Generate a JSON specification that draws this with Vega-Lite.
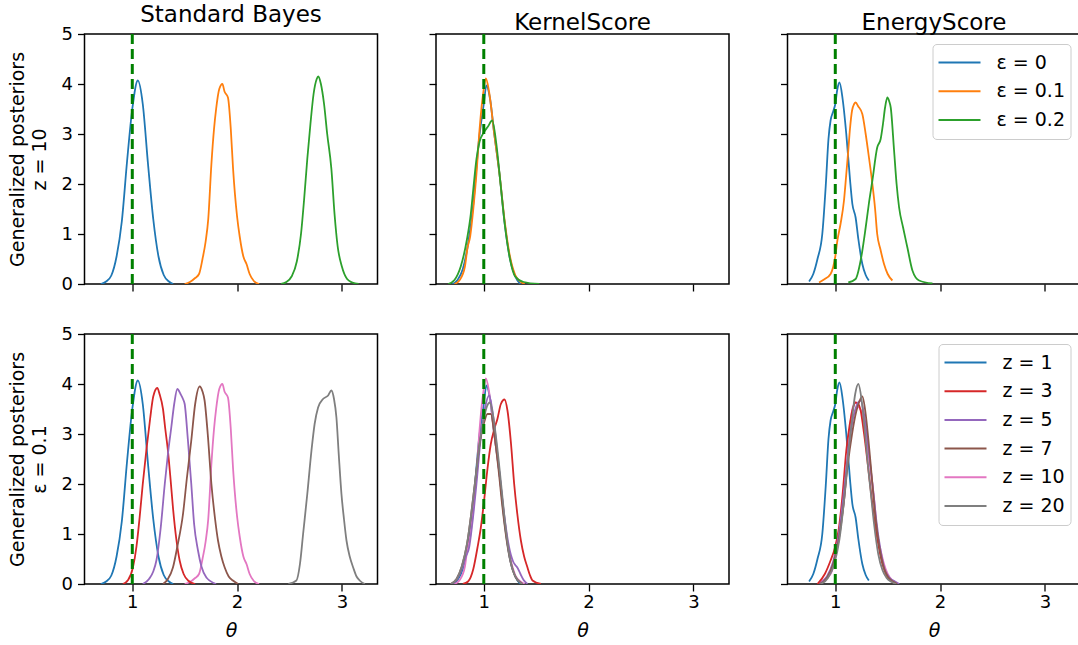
{
 "$schema": "https://vega.github.io/schema/vega-lite/v6.json",
 "padding": {"left": 6.5, "top": 3, "right": 0, "bottom": 0},
 "background": "white",
 "config": {
  "font": "DejaVu Sans",
  "view": {"stroke": "black", "strokeWidth": 1.5},
  "axis": {"domain": false, "grid": false, "tickColor": "black", "tickWidth": 1.3, "tickSize": 7, "labelFontSize": 18, "labelColor": "black", "labelPadding": 5, "titleFontSize": 19, "titleFontWeight": "normal", "titleColor": "black", "labelFont": "DejaVu Sans", "titleFont": "DejaVu Sans", "format": "d"},
  "axisX": {"titleFontStyle": "italic", "titlePadding": 10, "labelPadding": 2},
  "axisY": {"titlePadding": 12, "titleLineHeight": 22},
  "title": {"fontSize": 23, "fontWeight": "normal", "color": "black", "offset": -2, "frame": "group", "font": "DejaVu Sans"},
  "legend": {"strokeColor": "#cccccc", "cornerRadius": 4, "fillColor": "white", "padding": 5, "symbolType": "stroke", "symbolStrokeWidth": 2, "symbolSize": 1764, "labelFontSize": 19, "labelFont": "DejaVu Sans", "labelColor": "black", "labelOffset": 15, "clipHeight": 27, "rowPadding": 1.7, "orient": "top-right", "offset": 10}
 },
 "data": {"values": [
  {"p":"SB","c":"e0","x":0.70,"y":0},{"p":"SB","c":"e0","x":0.75,"y":0.05},{"p":"SB","c":"e0","x":0.80,"y":0.17},{"p":"SB","c":"e0","x":0.85,"y":0.55},{"p":"SB","c":"e0","x":0.90,"y":1.25},{"p":"SB","c":"e0","x":0.95,"y":2.45},{"p":"SB","c":"e0","x":1.00,"y":3.5},{"p":"SB","c":"e0","x":1.053,"y":4.07},{"p":"SB","c":"e0","x":1.10,"y":3.6},{"p":"SB","c":"e0","x":1.15,"y":2.4},{"p":"SB","c":"e0","x":1.20,"y":1.3},{"p":"SB","c":"e0","x":1.25,"y":0.55},{"p":"SB","c":"e0","x":1.30,"y":0.18},{"p":"SB","c":"e0","x":1.35,"y":0.05},{"p":"SB","c":"e0","x":1.39,"y":0},
  {"p":"SB","c":"e01","x":1.50,"y":0},{"p":"SB","c":"e01","x":1.55,"y":0.04},{"p":"SB","c":"e01","x":1.60,"y":0.12},{"p":"SB","c":"e01","x":1.637,"y":0.2},{"p":"SB","c":"e01","x":1.67,"y":0.5},{"p":"SB","c":"e01","x":1.70,"y":0.85},{"p":"SB","c":"e01","x":1.725,"y":1.3},{"p":"SB","c":"e01","x":1.755,"y":2.4},{"p":"SB","c":"e01","x":1.78,"y":3.1},{"p":"SB","c":"e01","x":1.80,"y":3.5},{"p":"SB","c":"e01","x":1.83,"y":3.9},{"p":"SB","c":"e01","x":1.86,"y":4.0},{"p":"SB","c":"e01","x":1.88,"y":3.85},{"p":"SB","c":"e01","x":1.913,"y":3.73},{"p":"SB","c":"e01","x":1.94,"y":3.1},{"p":"SB","c":"e01","x":1.961,"y":2.33},{"p":"SB","c":"e01","x":2.00,"y":1.35},{"p":"SB","c":"e01","x":2.025,"y":0.95},{"p":"SB","c":"e01","x":2.06,"y":0.55},{"p":"SB","c":"e01","x":2.09,"y":0.4},{"p":"SB","c":"e01","x":2.12,"y":0.2},{"p":"SB","c":"e01","x":2.16,"y":0.06},{"p":"SB","c":"e01","x":2.21,"y":0},
  {"p":"SB","c":"e02","x":2.42,"y":0},{"p":"SB","c":"e02","x":2.47,"y":0.04},{"p":"SB","c":"e02","x":2.52,"y":0.15},{"p":"SB","c":"e02","x":2.57,"y":0.45},{"p":"SB","c":"e02","x":2.61,"y":1.0},{"p":"SB","c":"e02","x":2.64,"y":1.7},{"p":"SB","c":"e02","x":2.67,"y":2.5},{"p":"SB","c":"e02","x":2.70,"y":3.2},{"p":"SB","c":"e02","x":2.73,"y":3.8},{"p":"SB","c":"e02","x":2.76,"y":4.1},{"p":"SB","c":"e02","x":2.775,"y":4.15},{"p":"SB","c":"e02","x":2.80,"y":4.0},{"p":"SB","c":"e02","x":2.83,"y":3.6},{"p":"SB","c":"e02","x":2.86,"y":3.0},{"p":"SB","c":"e02","x":2.90,"y":2.3},{"p":"SB","c":"e02","x":2.93,"y":1.4},{"p":"SB","c":"e02","x":2.96,"y":0.75},{"p":"SB","c":"e02","x":3.00,"y":0.35},{"p":"SB","c":"e02","x":3.05,"y":0.1},{"p":"SB","c":"e02","x":3.10,"y":0.03},{"p":"SB","c":"e02","x":3.16,"y":0},
  {"p":"SB","c":"z3","x":0.91,"y":0},{"p":"SB","c":"z3","x":0.96,"y":0.08},{"p":"SB","c":"z3","x":1.006,"y":0.33},{"p":"SB","c":"z3","x":1.04,"y":0.75},{"p":"SB","c":"z3","x":1.07,"y":1.33},{"p":"SB","c":"z3","x":1.10,"y":2.0},{"p":"SB","c":"z3","x":1.134,"y":2.67},{"p":"SB","c":"z3","x":1.17,"y":3.3},{"p":"SB","c":"z3","x":1.20,"y":3.75},{"p":"SB","c":"z3","x":1.239,"y":3.92},{"p":"SB","c":"z3","x":1.26,"y":3.8},{"p":"SB","c":"z3","x":1.293,"y":3.5},{"p":"SB","c":"z3","x":1.315,"y":3.1},{"p":"SB","c":"z3","x":1.34,"y":2.67},{"p":"SB","c":"z3","x":1.365,"y":2.1},{"p":"SB","c":"z3","x":1.388,"y":1.53},{"p":"SB","c":"z3","x":1.42,"y":0.9},{"p":"SB","c":"z3","x":1.452,"y":0.47},{"p":"SB","c":"z3","x":1.49,"y":0.2},{"p":"SB","c":"z3","x":1.532,"y":0.07},{"p":"SB","c":"z3","x":1.60,"y":0},
  {"p":"SB","c":"z5","x":1.10,"y":0},{"p":"SB","c":"z5","x":1.16,"y":0.1},{"p":"SB","c":"z5","x":1.20,"y":0.25},{"p":"SB","c":"z5","x":1.23,"y":0.47},{"p":"SB","c":"z5","x":1.27,"y":1.1},{"p":"SB","c":"z5","x":1.31,"y":2.0},{"p":"SB","c":"z5","x":1.34,"y":2.6},{"p":"SB","c":"z5","x":1.372,"y":3.13},{"p":"SB","c":"z5","x":1.40,"y":3.6},{"p":"SB","c":"z5","x":1.43,"y":3.9},{"p":"SB","c":"z5","x":1.46,"y":3.8},{"p":"SB","c":"z5","x":1.484,"y":3.7},{"p":"SB","c":"z5","x":1.50,"y":3.6},{"p":"SB","c":"z5","x":1.53,"y":2.9},{"p":"SB","c":"z5","x":1.563,"y":2.0},{"p":"SB","c":"z5","x":1.59,"y":1.2},{"p":"SB","c":"z5","x":1.627,"y":0.67},{"p":"SB","c":"z5","x":1.66,"y":0.35},{"p":"SB","c":"z5","x":1.707,"y":0.13},{"p":"SB","c":"z5","x":1.80,"y":0},
  {"p":"SB","c":"z7","x":1.293,"y":0},{"p":"SB","c":"z7","x":1.34,"y":0.1},{"p":"SB","c":"z7","x":1.388,"y":0.33},{"p":"SB","c":"z7","x":1.43,"y":0.75},{"p":"SB","c":"z7","x":1.484,"y":1.4},{"p":"SB","c":"z7","x":1.52,"y":2.1},{"p":"SB","c":"z7","x":1.563,"y":2.87},{"p":"SB","c":"z7","x":1.60,"y":3.6},{"p":"SB","c":"z7","x":1.643,"y":3.95},{"p":"SB","c":"z7","x":1.67,"y":3.85},{"p":"SB","c":"z7","x":1.69,"y":3.67},{"p":"SB","c":"z7","x":1.72,"y":3.0},{"p":"SB","c":"z7","x":1.755,"y":2.0},{"p":"SB","c":"z7","x":1.79,"y":1.3},{"p":"SB","c":"z7","x":1.818,"y":0.87},{"p":"SB","c":"z7","x":1.85,"y":0.55},{"p":"SB","c":"z7","x":1.882,"y":0.33},{"p":"SB","c":"z7","x":1.92,"y":0.15},{"p":"SB","c":"z7","x":1.96,"y":0.07},{"p":"SB","c":"z7","x":2.01,"y":0},
  {"p":"SB","c":"z20","x":2.49,"y":0},{"p":"SB","c":"z20","x":2.566,"y":0.07},{"p":"SB","c":"z20","x":2.60,"y":0.4},{"p":"SB","c":"z20","x":2.63,"y":1.0},{"p":"SB","c":"z20","x":2.67,"y":1.8},{"p":"SB","c":"z20","x":2.71,"y":2.67},{"p":"SB","c":"z20","x":2.74,"y":3.2},{"p":"SB","c":"z20","x":2.773,"y":3.53},{"p":"SB","c":"z20","x":2.82,"y":3.7},{"p":"SB","c":"z20","x":2.869,"y":3.77},{"p":"SB","c":"z20","x":2.90,"y":3.87},{"p":"SB","c":"z20","x":2.925,"y":3.7},{"p":"SB","c":"z20","x":2.948,"y":3.33},{"p":"SB","c":"z20","x":2.97,"y":2.6},{"p":"SB","c":"z20","x":2.996,"y":1.8},{"p":"SB","c":"z20","x":3.02,"y":1.3},{"p":"SB","c":"z20","x":3.044,"y":0.87},{"p":"SB","c":"z20","x":3.075,"y":0.55},{"p":"SB","c":"z20","x":3.108,"y":0.33},{"p":"SB","c":"z20","x":3.14,"y":0.15},{"p":"SB","c":"z20","x":3.17,"y":0.07},{"p":"SB","c":"z20","x":3.22,"y":0},
  {"p":"KS","c":"e0","x":0.70,"y":0},{"p":"KS","c":"e0","x":0.75,"y":0.08},{"p":"KS","c":"e0","x":0.80,"y":0.3},{"p":"KS","c":"e0","x":0.85,"y":0.8},{"p":"KS","c":"e0","x":0.90,"y":1.6},{"p":"KS","c":"e0","x":0.93,"y":2.33},{"p":"KS","c":"e0","x":0.95,"y":2.8},{"p":"KS","c":"e0","x":1.00,"y":3.6},{"p":"KS","c":"e0","x":1.025,"y":3.97},{"p":"KS","c":"e0","x":1.06,"y":3.7},{"p":"KS","c":"e0","x":1.10,"y":3.0},{"p":"KS","c":"e0","x":1.15,"y":2.2},{"p":"KS","c":"e0","x":1.20,"y":1.2},{"p":"KS","c":"e0","x":1.25,"y":0.5},{"p":"KS","c":"e0","x":1.30,"y":0.15},{"p":"KS","c":"e0","x":1.35,"y":0},
  {"p":"KS","c":"e01","x":0.72,"y":0},{"p":"KS","c":"e01","x":0.77,"y":0.08},{"p":"KS","c":"e01","x":0.82,"y":0.35},{"p":"KS","c":"e01","x":0.845,"y":0.73},{"p":"KS","c":"e01","x":0.87,"y":0.95},{"p":"KS","c":"e01","x":0.90,"y":1.5},{"p":"KS","c":"e01","x":0.93,"y":2.2},{"p":"KS","c":"e01","x":0.96,"y":3.1},{"p":"KS","c":"e01","x":1.00,"y":3.9},{"p":"KS","c":"e01","x":1.02,"y":4.11},{"p":"KS","c":"e01","x":1.05,"y":3.85},{"p":"KS","c":"e01","x":1.10,"y":3.0},{"p":"KS","c":"e01","x":1.15,"y":2.2},{"p":"KS","c":"e01","x":1.20,"y":1.25},{"p":"KS","c":"e01","x":1.25,"y":0.55},{"p":"KS","c":"e01","x":1.30,"y":0.18},{"p":"KS","c":"e01","x":1.35,"y":0.05},{"p":"KS","c":"e01","x":1.39,"y":0},
  {"p":"KS","c":"e02","x":0.66,"y":0},{"p":"KS","c":"e02","x":0.72,"y":0.08},{"p":"KS","c":"e02","x":0.78,"y":0.35},{"p":"KS","c":"e02","x":0.84,"y":0.9},{"p":"KS","c":"e02","x":0.876,"y":1.4},{"p":"KS","c":"e02","x":0.90,"y":1.9},{"p":"KS","c":"e02","x":0.93,"y":2.5},{"p":"KS","c":"e02","x":0.96,"y":2.85},{"p":"KS","c":"e02","x":1.00,"y":3.03},{"p":"KS","c":"e02","x":1.04,"y":3.15},{"p":"KS","c":"e02","x":1.08,"y":3.27},{"p":"KS","c":"e02","x":1.12,"y":2.8},{"p":"KS","c":"e02","x":1.16,"y":2.0},{"p":"KS","c":"e02","x":1.20,"y":1.2},{"p":"KS","c":"e02","x":1.25,"y":0.5},{"p":"KS","c":"e02","x":1.30,"y":0.15},{"p":"KS","c":"e02","x":1.38,"y":0.04},{"p":"KS","c":"e02","x":1.53,"y":0},
  {"p":"KS","c":"z3","x":0.80,"y":0},{"p":"KS","c":"z3","x":0.85,"y":0.05},{"p":"KS","c":"z3","x":0.90,"y":0.3},{"p":"KS","c":"z3","x":0.94,"y":0.73},{"p":"KS","c":"z3","x":0.97,"y":1.1},{"p":"KS","c":"z3","x":1.003,"y":1.67},{"p":"KS","c":"z3","x":1.035,"y":2.3},{"p":"KS","c":"z3","x":1.067,"y":2.8},{"p":"KS","c":"z3","x":1.10,"y":3.1},{"p":"KS","c":"z3","x":1.13,"y":3.3},{"p":"KS","c":"z3","x":1.163,"y":3.6},{"p":"KS","c":"z3","x":1.198,"y":3.69},{"p":"KS","c":"z3","x":1.226,"y":3.47},{"p":"KS","c":"z3","x":1.26,"y":2.8},{"p":"KS","c":"z3","x":1.29,"y":2.0},{"p":"KS","c":"z3","x":1.32,"y":1.4},{"p":"KS","c":"z3","x":1.354,"y":0.87},{"p":"KS","c":"z3","x":1.385,"y":0.55},{"p":"KS","c":"z3","x":1.417,"y":0.33},{"p":"KS","c":"z3","x":1.44,"y":0.18},{"p":"KS","c":"z3","x":1.465,"y":0.07},{"p":"KS","c":"z3","x":1.545,"y":0},
  {"p":"KS","c":"z5","x":0.685,"y":0},{"p":"KS","c":"z5","x":0.74,"y":0.08},{"p":"KS","c":"z5","x":0.79,"y":0.3},{"p":"KS","c":"z5","x":0.83,"y":0.55},{"p":"KS","c":"z5","x":0.86,"y":0.73},{"p":"KS","c":"z5","x":0.89,"y":1.2},{"p":"KS","c":"z5","x":0.93,"y":2.0},{"p":"KS","c":"z5","x":0.97,"y":2.9},{"p":"KS","c":"z5","x":1.01,"y":3.5},{"p":"KS","c":"z5","x":1.051,"y":3.77},{"p":"KS","c":"z5","x":1.08,"y":3.5},{"p":"KS","c":"z5","x":1.12,"y":2.8},{"p":"KS","c":"z5","x":1.16,"y":2.0},{"p":"KS","c":"z5","x":1.20,"y":1.3},{"p":"KS","c":"z5","x":1.24,"y":0.75},{"p":"KS","c":"z5","x":1.28,"y":0.45},{"p":"KS","c":"z5","x":1.30,"y":0.38},{"p":"KS","c":"z5","x":1.32,"y":0.33},{"p":"KS","c":"z5","x":1.35,"y":0.2},{"p":"KS","c":"z5","x":1.38,"y":0.08},{"p":"KS","c":"z5","x":1.417,"y":0},
  {"p":"KS","c":"z7","x":0.685,"y":0},{"p":"KS","c":"z7","x":0.74,"y":0.1},{"p":"KS","c":"z7","x":0.79,"y":0.35},{"p":"KS","c":"z7","x":0.84,"y":0.8},{"p":"KS","c":"z7","x":0.88,"y":1.4},{"p":"KS","c":"z7","x":0.92,"y":2.1},{"p":"KS","c":"z7","x":0.96,"y":2.8},{"p":"KS","c":"z7","x":1.00,"y":3.2},{"p":"KS","c":"z7","x":1.035,"y":3.4},{"p":"KS","c":"z7","x":1.067,"y":3.4},{"p":"KS","c":"z7","x":1.10,"y":3.0},{"p":"KS","c":"z7","x":1.14,"y":2.3},{"p":"KS","c":"z7","x":1.18,"y":1.5},{"p":"KS","c":"z7","x":1.22,"y":0.85},{"p":"KS","c":"z7","x":1.26,"y":0.4},{"p":"KS","c":"z7","x":1.30,"y":0.15},{"p":"KS","c":"z7","x":1.37,"y":0},
  {"p":"KS","c":"z20","x":0.685,"y":0},{"p":"KS","c":"z20","x":0.74,"y":0.1},{"p":"KS","c":"z20","x":0.79,"y":0.35},{"p":"KS","c":"z20","x":0.84,"y":0.8},{"p":"KS","c":"z20","x":0.88,"y":1.4},{"p":"KS","c":"z20","x":0.92,"y":2.1},{"p":"KS","c":"z20","x":0.96,"y":2.8},{"p":"KS","c":"z20","x":1.00,"y":3.3},{"p":"KS","c":"z20","x":1.03,"y":3.55},{"p":"KS","c":"z20","x":1.057,"y":3.63},{"p":"KS","c":"z20","x":1.09,"y":3.35},{"p":"KS","c":"z20","x":1.13,"y":2.7},{"p":"KS","c":"z20","x":1.17,"y":1.9},{"p":"KS","c":"z20","x":1.21,"y":1.1},{"p":"KS","c":"z20","x":1.25,"y":0.5},{"p":"KS","c":"z20","x":1.29,"y":0.2},{"p":"KS","c":"z20","x":1.37,"y":0},
  {"p":"ES","c":"e0","x":0.75,"y":0.05},{"p":"ES","c":"e0","x":0.79,"y":0.2},{"p":"ES","c":"e0","x":0.83,"y":0.5},{"p":"ES","c":"e0","x":0.876,"y":1.0},{"p":"ES","c":"e0","x":0.91,"y":2.0},{"p":"ES","c":"e0","x":0.935,"y":2.9},{"p":"ES","c":"e0","x":0.955,"y":3.27},{"p":"ES","c":"e0","x":0.98,"y":3.45},{"p":"ES","c":"e0","x":1.00,"y":3.6},{"p":"ES","c":"e0","x":1.02,"y":3.9},{"p":"ES","c":"e0","x":1.04,"y":4.03},{"p":"ES","c":"e0","x":1.07,"y":3.7},{"p":"ES","c":"e0","x":1.105,"y":3.0},{"p":"ES","c":"e0","x":1.14,"y":2.1},{"p":"ES","c":"e0","x":1.163,"y":1.6},{"p":"ES","c":"e0","x":1.194,"y":1.33},{"p":"ES","c":"e0","x":1.22,"y":0.9},{"p":"ES","c":"e0","x":1.258,"y":0.4},{"p":"ES","c":"e0","x":1.29,"y":0.18},{"p":"ES","c":"e0","x":1.32,"y":0.07},
  {"p":"ES","c":"e01","x":0.845,"y":0.03},{"p":"ES","c":"e01","x":0.90,"y":0.1},{"p":"ES","c":"e01","x":0.955,"y":0.2},{"p":"ES","c":"e01","x":1.00,"y":0.55},{"p":"ES","c":"e01","x":1.02,"y":0.87},{"p":"ES","c":"e01","x":1.05,"y":1.2},{"p":"ES","c":"e01","x":1.083,"y":1.67},{"p":"ES","c":"e01","x":1.105,"y":2.2},{"p":"ES","c":"e01","x":1.124,"y":2.67},{"p":"ES","c":"e01","x":1.14,"y":3.1},{"p":"ES","c":"e01","x":1.16,"y":3.47},{"p":"ES","c":"e01","x":1.18,"y":3.6},{"p":"ES","c":"e01","x":1.194,"y":3.63},{"p":"ES","c":"e01","x":1.22,"y":3.55},{"p":"ES","c":"e01","x":1.258,"y":3.4},{"p":"ES","c":"e01","x":1.29,"y":3.0},{"p":"ES","c":"e01","x":1.32,"y":2.55},{"p":"ES","c":"e01","x":1.354,"y":2.0},{"p":"ES","c":"e01","x":1.38,"y":1.5},{"p":"ES","c":"e01","x":1.40,"y":1.0},{"p":"ES","c":"e01","x":1.43,"y":0.7},{"p":"ES","c":"e01","x":1.465,"y":0.4},{"p":"ES","c":"e01","x":1.50,"y":0.2},{"p":"ES","c":"e01","x":1.545,"y":0.07},
  {"p":"ES","c":"e02","x":1.124,"y":0.03},{"p":"ES","c":"e02","x":1.194,"y":0.1},{"p":"ES","c":"e02","x":1.242,"y":0.47},{"p":"ES","c":"e02","x":1.29,"y":1.13},{"p":"ES","c":"e02","x":1.32,"y":1.6},{"p":"ES","c":"e02","x":1.354,"y":2.07},{"p":"ES","c":"e02","x":1.40,"y":2.73},{"p":"ES","c":"e02","x":1.433,"y":2.9},{"p":"ES","c":"e02","x":1.455,"y":3.2},{"p":"ES","c":"e02","x":1.475,"y":3.53},{"p":"ES","c":"e02","x":1.497,"y":3.73},{"p":"ES","c":"e02","x":1.515,"y":3.65},{"p":"ES","c":"e02","x":1.529,"y":3.53},{"p":"ES","c":"e02","x":1.561,"y":2.67},{"p":"ES","c":"e02","x":1.585,"y":2.0},{"p":"ES","c":"e02","x":1.609,"y":1.53},{"p":"ES","c":"e02","x":1.647,"y":1.13},{"p":"ES","c":"e02","x":1.688,"y":0.73},{"p":"ES","c":"e02","x":1.736,"y":0.27},{"p":"ES","c":"e02","x":1.80,"y":0.07},{"p":"ES","c":"e02","x":1.927,"y":0.01},
  {"p":"ES","c":"z3","x":0.83,"y":0},{"p":"ES","c":"z3","x":0.90,"y":0.2},{"p":"ES","c":"z3","x":0.955,"y":0.47},{"p":"ES","c":"z3","x":1.00,"y":0.75},{"p":"ES","c":"z3","x":1.035,"y":1.13},{"p":"ES","c":"z3","x":1.07,"y":1.8},{"p":"ES","c":"z3","x":1.105,"y":2.67},{"p":"ES","c":"z3","x":1.135,"y":3.15},{"p":"ES","c":"z3","x":1.163,"y":3.47},{"p":"ES","c":"z3","x":1.194,"y":3.63},{"p":"ES","c":"z3","x":1.22,"y":3.6},{"p":"ES","c":"z3","x":1.242,"y":3.47},{"p":"ES","c":"z3","x":1.275,"y":3.0},{"p":"ES","c":"z3","x":1.306,"y":2.47},{"p":"ES","c":"z3","x":1.34,"y":1.85},{"p":"ES","c":"z3","x":1.37,"y":1.33},{"p":"ES","c":"z3","x":1.41,"y":0.8},{"p":"ES","c":"z3","x":1.45,"y":0.4},{"p":"ES","c":"z3","x":1.49,"y":0.17},{"p":"ES","c":"z3","x":1.53,"y":0.07},{"p":"ES","c":"z3","x":1.58,"y":0},
  {"p":"ES","c":"z5","x":0.85,"y":0},{"p":"ES","c":"z5","x":0.92,"y":0.15},{"p":"ES","c":"z5","x":0.98,"y":0.45},{"p":"ES","c":"z5","x":1.03,"y":0.95},{"p":"ES","c":"z5","x":1.08,"y":1.8},{"p":"ES","c":"z5","x":1.12,"y":2.6},{"p":"ES","c":"z5","x":1.16,"y":3.2},{"p":"ES","c":"z5","x":1.20,"y":3.55},{"p":"ES","c":"z5","x":1.242,"y":3.67},{"p":"ES","c":"z5","x":1.27,"y":3.45},{"p":"ES","c":"z5","x":1.30,"y":3.0},{"p":"ES","c":"z5","x":1.33,"y":2.45},{"p":"ES","c":"z5","x":1.36,"y":1.9},{"p":"ES","c":"z5","x":1.39,"y":1.3},{"p":"ES","c":"z5","x":1.43,"y":0.7},{"p":"ES","c":"z5","x":1.47,"y":0.3},{"p":"ES","c":"z5","x":1.52,"y":0.12},{"p":"ES","c":"z5","x":1.57,"y":0.05},{"p":"ES","c":"z5","x":1.61,"y":0},
  {"p":"ES","c":"z7","x":0.85,"y":0},{"p":"ES","c":"z7","x":0.92,"y":0.12},{"p":"ES","c":"z7","x":0.98,"y":0.4},{"p":"ES","c":"z7","x":1.03,"y":0.85},{"p":"ES","c":"z7","x":1.08,"y":1.6},{"p":"ES","c":"z7","x":1.12,"y":2.4},{"p":"ES","c":"z7","x":1.16,"y":3.0},{"p":"ES","c":"z7","x":1.20,"y":3.45},{"p":"ES","c":"z7","x":1.23,"y":3.65},{"p":"ES","c":"z7","x":1.258,"y":3.75},{"p":"ES","c":"z7","x":1.29,"y":3.4},{"p":"ES","c":"z7","x":1.32,"y":2.8},{"p":"ES","c":"z7","x":1.35,"y":2.1},{"p":"ES","c":"z7","x":1.38,"y":1.4},{"p":"ES","c":"z7","x":1.42,"y":0.75},{"p":"ES","c":"z7","x":1.46,"y":0.35},{"p":"ES","c":"z7","x":1.50,"y":0.15},{"p":"ES","c":"z7","x":1.55,"y":0.05},{"p":"ES","c":"z7","x":1.59,"y":0},
  {"p":"ES","c":"z20","x":0.86,"y":0},{"p":"ES","c":"z20","x":0.93,"y":0.12},{"p":"ES","c":"z20","x":0.99,"y":0.4},{"p":"ES","c":"z20","x":1.04,"y":0.9},{"p":"ES","c":"z20","x":1.08,"y":1.6},{"p":"ES","c":"z20","x":1.12,"y":2.5},{"p":"ES","c":"z20","x":1.16,"y":3.3},{"p":"ES","c":"z20","x":1.19,"y":3.8},{"p":"ES","c":"z20","x":1.22,"y":4.0},{"p":"ES","c":"z20","x":1.25,"y":3.7},{"p":"ES","c":"z20","x":1.28,"y":3.1},{"p":"ES","c":"z20","x":1.31,"y":2.4},{"p":"ES","c":"z20","x":1.34,"y":1.8},{"p":"ES","c":"z20","x":1.37,"y":1.2},{"p":"ES","c":"z20","x":1.41,"y":0.6},{"p":"ES","c":"z20","x":1.45,"y":0.28},{"p":"ES","c":"z20","x":1.49,"y":0.12},{"p":"ES","c":"z20","x":1.54,"y":0.04},{"p":"ES","c":"z20","x":1.58,"y":0}
 ]},
 "columns": 3,
 "spacing": {"row": 50, "column": 58.5},
 "bounds": "flush",
 "resolve": {"scale": {"color": "independent"}, "legend": {"color": "independent"}},
 "concat": [
  {"title": "Standard Bayes", "width": 293, "height": 250, "layer": [
   {"transform": [{"filter": "datum.p == 'SB' && indexof(['e0','e01','e02'], datum.c) >= 0"}],
    "mark": {"type": "line", "interpolate": "monotone", "strokeWidth": 1.8, "clip": true},
    "encoding": {
     "x": {"field": "x", "type": "quantitative", "scale": {"domain": [0.544, 3.34], "nice": false, "zero": false}, "axis": {"values": [1, 2, 3], "labels": false, "title": null}},
     "y": {"field": "y", "type": "quantitative", "scale": {"domain": [0, 5], "nice": false}, "axis": {"values": [0, 1, 2, 3, 4, 5], "title": ["Generalized posteriors", "z = 10"]}},
     "color": {"field": "c", "type": "nominal", "scale": {"domain": ["e0", "e01", "e02"], "range": ["#1f77b4", "#ff7f0e", "#2ca02c"]}, "legend": null}}},
   {"data": {"values": [{"t": 1}]}, "mark": {"type": "rule", "color": "#008000", "strokeWidth": 3, "strokeDash": [10, 5]}, "encoding": {"x": {"field": "t", "type": "quantitative"}}}
  ]},
  {"title": "KernelScore", "width": 293, "height": 250, "layer": [
   {"transform": [{"filter": "datum.p == 'KS' && indexof(['e0','e01','e02'], datum.c) >= 0"}],
    "mark": {"type": "line", "interpolate": "monotone", "strokeWidth": 1.8, "clip": true},
    "encoding": {
     "x": {"field": "x", "type": "quantitative", "scale": {"domain": [0.544, 3.34], "nice": false, "zero": false}, "axis": {"values": [1, 2, 3], "labels": false, "title": null}},
     "y": {"field": "y", "type": "quantitative", "scale": {"domain": [0, 5], "nice": false}, "axis": {"values": [0, 1, 2, 3, 4, 5], "labels": false, "title": null}},
     "color": {"field": "c", "type": "nominal", "scale": {"domain": ["e0", "e01", "e02"], "range": ["#1f77b4", "#ff7f0e", "#2ca02c"]}, "legend": null}}},
   {"data": {"values": [{"t": 1}]}, "mark": {"type": "rule", "color": "#008000", "strokeWidth": 3, "strokeDash": [10, 5]}, "encoding": {"x": {"field": "t", "type": "quantitative"}}}
  ]},
  {"title": "EnergyScore", "width": 293, "height": 250, "layer": [
   {"transform": [{"filter": "datum.p == 'ES' && indexof(['e0','e01','e02'], datum.c) >= 0"}],
    "mark": {"type": "line", "interpolate": "monotone", "strokeWidth": 1.8, "clip": true},
    "encoding": {
     "x": {"field": "x", "type": "quantitative", "scale": {"domain": [0.544, 3.34], "nice": false, "zero": false}, "axis": {"values": [1, 2, 3], "labels": false, "title": null}},
     "y": {"field": "y", "type": "quantitative", "scale": {"domain": [0, 5], "nice": false}, "axis": {"values": [0, 1, 2, 3, 4, 5], "labels": false, "title": null}},
     "color": {"field": "c", "type": "nominal", "scale": {"domain": ["e0", "e01", "e02"], "range": ["#1f77b4", "#ff7f0e", "#2ca02c"]}, "legend": {"title": null, "orient": "top-right", "offset": 10, "labelExpr": "datum.value == 'e0' ? 'ε = 0' : datum.value == 'e01' ? 'ε = 0.1' : 'ε = 0.2'"}}}},
   {"data": {"values": [{"t": 1}]}, "mark": {"type": "rule", "color": "#008000", "strokeWidth": 3, "strokeDash": [10, 5]}, "encoding": {"x": {"field": "t", "type": "quantitative"}}}
  ]},
  {"width": 293, "height": 250, "layer": [
   {"transform": [{"filter": "datum.p == 'SB' && indexof(['e0','z3','z5','z7','e01','z20'], datum.c) >= 0"}],
    "mark": {"type": "line", "interpolate": "monotone", "strokeWidth": 1.8, "clip": true},
    "encoding": {
     "x": {"field": "x", "type": "quantitative", "scale": {"domain": [0.544, 3.34], "nice": false, "zero": false}, "axis": {"values": [1, 2, 3], "title": "θ"}},
     "y": {"field": "y", "type": "quantitative", "scale": {"domain": [0, 5], "nice": false}, "axis": {"values": [0, 1, 2, 3, 4, 5], "title": ["Generalized posteriors", "ε = 0.1"]}},
     "color": {"field": "c", "type": "nominal", "scale": {"domain": ["e0", "z3", "z5", "z7", "e01", "z20"], "range": ["#1f77b4", "#d62728", "#9467bd", "#8c564b", "#e377c2", "#7f7f7f"]}, "legend": null}}},
   {"data": {"values": [{"t": 1}]}, "mark": {"type": "rule", "color": "#008000", "strokeWidth": 3, "strokeDash": [10, 5]}, "encoding": {"x": {"field": "t", "type": "quantitative"}}}
  ]},
  {"width": 293, "height": 250, "layer": [
   {"transform": [{"filter": "datum.p == 'KS' && indexof(['e0','z3','z5','z7','e01','z20'], datum.c) >= 0"}],
    "mark": {"type": "line", "interpolate": "monotone", "strokeWidth": 1.8, "clip": true},
    "encoding": {
     "x": {"field": "x", "type": "quantitative", "scale": {"domain": [0.544, 3.34], "nice": false, "zero": false}, "axis": {"values": [1, 2, 3], "title": "θ"}},
     "y": {"field": "y", "type": "quantitative", "scale": {"domain": [0, 5], "nice": false}, "axis": {"values": [0, 1, 2, 3, 4, 5], "labels": false, "title": null}},
     "color": {"field": "c", "type": "nominal", "scale": {"domain": ["e0", "z3", "z5", "z7", "e01", "z20"], "range": ["#1f77b4", "#d62728", "#9467bd", "#8c564b", "#e377c2", "#7f7f7f"]}, "legend": null}}},
   {"data": {"values": [{"t": 1}]}, "mark": {"type": "rule", "color": "#008000", "strokeWidth": 3, "strokeDash": [10, 5]}, "encoding": {"x": {"field": "t", "type": "quantitative"}}}
  ]},
  {"width": 293, "height": 250, "layer": [
   {"transform": [{"filter": "datum.p == 'ES' && indexof(['e0','z3','z5','z7','e01','z20'], datum.c) >= 0"}],
    "mark": {"type": "line", "interpolate": "monotone", "strokeWidth": 1.8, "clip": true},
    "encoding": {
     "x": {"field": "x", "type": "quantitative", "scale": {"domain": [0.544, 3.34], "nice": false, "zero": false}, "axis": {"values": [1, 2, 3], "title": "θ"}},
     "y": {"field": "y", "type": "quantitative", "scale": {"domain": [0, 5], "nice": false}, "axis": {"values": [0, 1, 2, 3, 4, 5], "labels": false, "title": null}},
     "color": {"field": "c", "type": "nominal", "scale": {"domain": ["e0", "z3", "z5", "z7", "e01", "z20"], "range": ["#1f77b4", "#d62728", "#9467bd", "#8c564b", "#e377c2", "#7f7f7f"]}, "legend": {"title": null, "orient": "top-right", "offset": 10, "labelExpr": "datum.value == 'e0' ? 'z = 1' : datum.value == 'z3' ? 'z = 3' : datum.value == 'z5' ? 'z = 5' : datum.value == 'z7' ? 'z = 7' : datum.value == 'e01' ? 'z = 10' : 'z = 20'"}}}},
   {"data": {"values": [{"t": 1}]}, "mark": {"type": "rule", "color": "#008000", "strokeWidth": 3, "strokeDash": [10, 5]}, "encoding": {"x": {"field": "t", "type": "quantitative"}}}
  ]}
 ]
}
